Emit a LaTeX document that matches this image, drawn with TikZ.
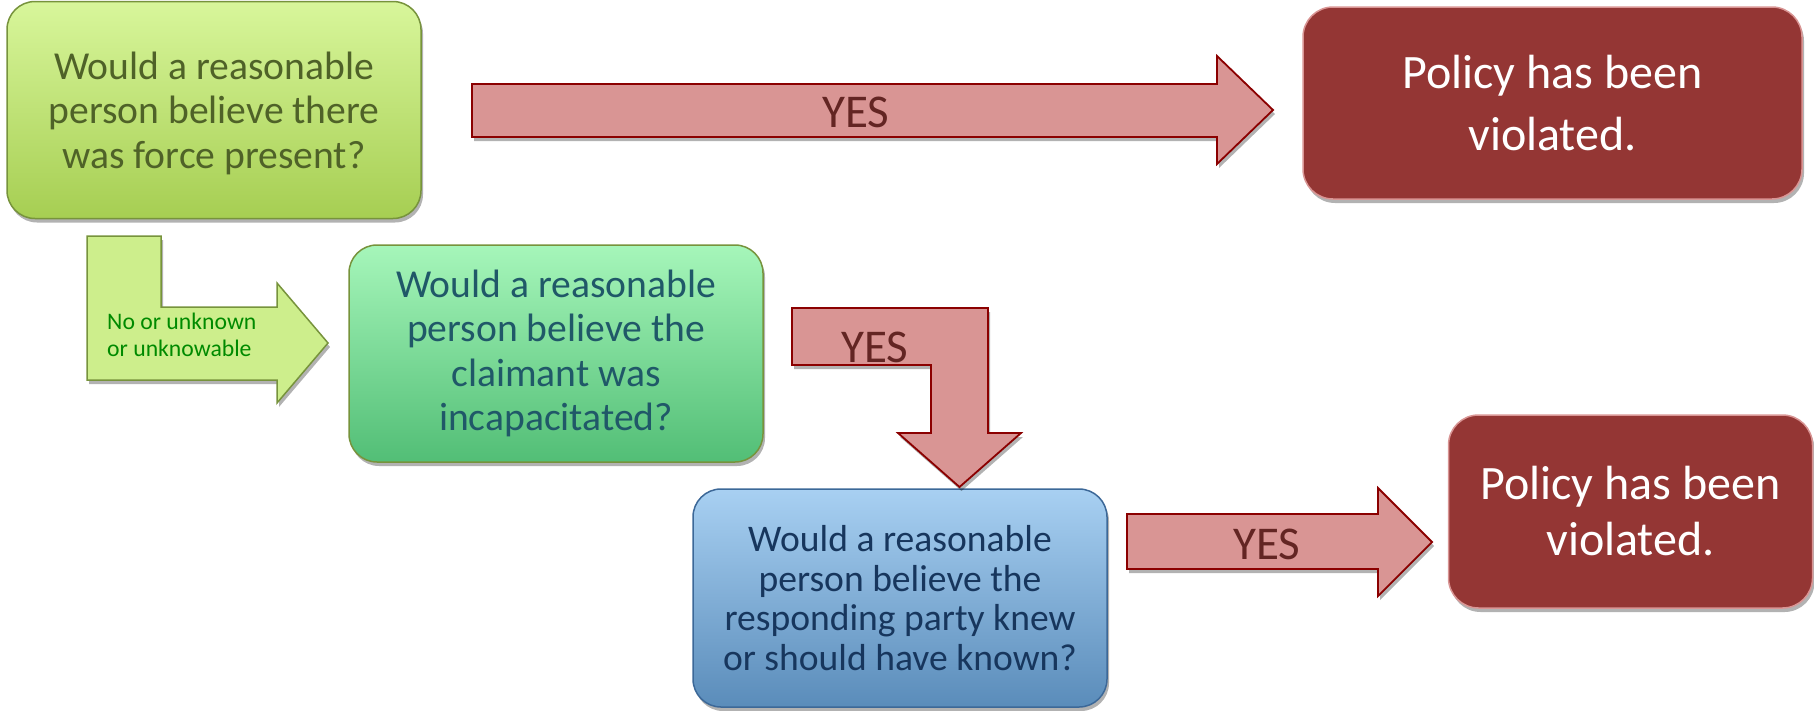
\documentclass[tikz,border=0pt]{standalone}
\usepackage{fontspec}
\setmainfont{Carlito}
\usepackage{tikz}
\usetikzlibrary{shadows}

\definecolor{qonetop}{RGB}{216,246,155}
\definecolor{qonebot}{RGB}{166,206,82}
\definecolor{qoneedge}{RGB}{119,147,60}
\definecolor{qonetext}{RGB}{79,98,40}
\definecolor{qtwotop}{RGB}{166,246,186}
\definecolor{qtwobot}{RGB}{82,190,118}
\definecolor{qtwotext}{RGB}{32,88,104}
\definecolor{qthreetop}{RGB}{168,208,242}
\definecolor{qthreebot}{RGB}{90,140,186}
\definecolor{qthreeedge}{RGB}{60,104,152}
\definecolor{qthreetext}{RGB}{23,54,93}
\definecolor{verdictfill}{RGB}{148,54,52}
\definecolor{verdictedge}{RGB}{217,149,148}
\definecolor{arrowfill}{RGB}{217,149,148}
\definecolor{arrowedge}{RGB}{139,0,0}
\definecolor{yestext}{RGB}{99,37,35}
\definecolor{nofill}{RGB}{205,238,140}
\definecolor{notext}{RGB}{0,138,0}

\tikzset{
  myshadow/.style={drop shadow={shadow xshift=2pt, shadow yshift=-4pt, fill=black, opacity=0.3}},
  question/.style={draw, rounded corners=28pt, line width=1.5pt, align=center, inner sep=0pt,
    minimum width=414pt, minimum height=217pt, myshadow},
  verdict/.style={draw=verdictedge, fill=verdictfill, rounded corners=30pt, line width=1.5pt,
    align=center, inner sep=0pt, text=white, myshadow},
  blockarrow/.style={fill=arrowfill, draw=arrowedge, line width=1.8pt, line join=miter, myshadow},
  yeslabel/.style={text=yestext, font=\fontsize{47}{50}\selectfont, inner sep=0pt},
}

\begin{document}
\begin{tikzpicture}[x=1pt, y=-1pt]
  \useasboundingbox (0,0) rectangle (1814,710);

  % questions
  \node[question, draw=qoneedge, top color=qonetop, bottom color=qonebot, text=qonetext,
    font=\fontsize{39.6}{44.5}\selectfont, text depth=0pt] (force) at (214,110)
    {Would a reasonable\\person believe there\\was force present?};
  \node[question, draw=qoneedge, top color=qtwotop, bottom color=qtwobot, text=qtwotext,
    font=\fontsize{39.6}{44.5}\selectfont] (incap) at (556,353.5)
    {Would a reasonable\\person believe the\\claimant was\\incapacitated?};
  \node[question, draw=qthreeedge, top color=qthreetop, bottom color=qthreebot, text=qthreetext,
    minimum height=218pt, font=\fontsize{37.6}{39.5}\selectfont] (knew) at (900,598)
    {Would a reasonable\\person believe the\\responding party knew\\or should have known?};

  % outcomes
  \node[verdict, minimum width=499pt, minimum height=192pt,
    font=\fontsize{48}{62}\selectfont] (violA) at (1552.5,103)
    {Policy has been\\violated.};
  \node[verdict, minimum width=364pt, minimum height=193pt,
    font=\fontsize{48}{56}\selectfont] (violB) at (1630.5,511.5)
    {Policy has been\\violated.};

  % block arrows
  \draw[blockarrow] (472,84) -- (1217,84) -- (1217,56) -- (1273,110) -- (1217,164)
    -- (1217,137) -- (472,137) -- cycle;
  \draw[blockarrow, fill=nofill, draw=qoneedge, line width=1.5pt] (87,236) -- (161,236)
    -- (161,307) -- (277,307) -- (277,283) -- (328,343) -- (277,403) -- (277,380)
    -- (87,380) -- cycle;
  \draw[blockarrow] (792,308) -- (988,308) -- (988,433) -- (1021,433) -- (959.5,487)
    -- (898,433) -- (931,433) -- (931,365) -- (792,365) -- cycle;
  \draw[blockarrow] (1127,514) -- (1378,514) -- (1378,488) -- (1432,542) -- (1378,596)
    -- (1378,569) -- (1127,569) -- cycle;

  % arrow labels
  \node[yeslabel] (yesA) at (856,112) {YES};
  \node[yeslabel] (yesB) at (875,347) {YES};
  \node[yeslabel] (yesC) at (1267,544) {YES};
  \node[text=notext, font=\fontsize{23.7}{27}\selectfont, align=left, anchor=north west,
    inner sep=0pt] (unknown) at (107,313) {No or unknown\\or unknowable};
\end{tikzpicture}
\end{document}
